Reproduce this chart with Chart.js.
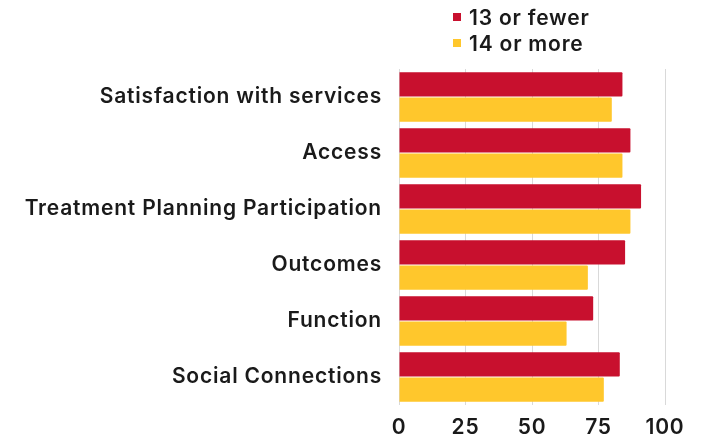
<!DOCTYPE html>
<html>
<head>
<meta charset="utf-8">
<script src="https://cdn.jsdelivr.net/npm/chart.js@4.4.0/dist/chart.umd.min.js"></script>
<style>
  html, body { margin: 0; padding: 0; background: #ffffff; }
  #wrap { position: relative; width: 704px; height: 441px; }
  #legend {
    position: absolute; left: 453px; top: 4px;
    font-family: Inter, "Open Sans", sans-serif; font-weight: 600;
    font-size: 21px; letter-spacing: 0.8px; color: #1a1a1a;
  }
  .item { display: flex; align-items: center; height: 26px; }
  .swatch { width: 8px; height: 8px; margin-right: 8px; }
</style>
</head>
<body>
<div id="wrap">
  <canvas id="chart" width="704" height="441"></canvas>
  <div id="legend"></div>
</div>
<script>
const categories = ['Satisfaction with services', 'Access', 'Treatment Planning Participation', 'Outcomes', 'Function', 'Social Connections'];
const seriesLabels = ['13 or fewer', '14 or more'];
const fewerValues = [84, 87, 91, 85, 73, 83];
const moreValues = [80, 84, 87, 71, 63, 77];
const xTicks = [0, 25, 50, 75, 100];

const colors = ['#C8102E', '#FFC72C'];
const font = { family: 'Inter, "Open Sans", sans-serif', size: 21, weight: '600' };

// Simple stacked legend above the plot
const legendEl = document.getElementById('legend');
seriesLabels.forEach((label, i) => {
    const item = document.createElement('div');
    item.className = 'item';
    const sw = document.createElement('span');
    sw.className = 'swatch';
    sw.style.background = colors[i];
    const txt = document.createElement('span');
    txt.textContent = label;
    item.appendChild(sw);
    item.appendChild(txt);
    legendEl.appendChild(item);
});

// Slightly wider lettering for the axis labels
const spacingPlugin = {
    id: 'spacing',
    beforeUpdate(chart) { chart.ctx.letterSpacing = '0.8px'; },
    beforeDraw(chart) { chart.ctx.letterSpacing = '0.8px'; }
};

const ctx = document.getElementById('chart').getContext('2d');
new Chart(ctx, {
    type: 'bar',
    data: {
        labels: categories,
        datasets: [{
            label: seriesLabels[0],
            data: fewerValues,
            backgroundColor: colors[0],
            borderRadius: 1,
            categoryPercentage: 0.9,
            barPercentage: 0.96
        }, {
            label: seriesLabels[1],
            data: moreValues,
            backgroundColor: colors[1],
            borderRadius: 1,
            categoryPercentage: 0.9,
            barPercentage: 0.96
        }]
    },
    options: {
        indexAxis: 'y',
        responsive: false,
        animation: false,
        layout: {
            padding: { top: 69, right: 39, bottom: 0, left: 0 }
        },
        plugins: {
            legend: { display: false },
            tooltip: { enabled: false }
        },
        scales: {
            x: {
                min: 0,
                max: 100,
                afterBuildTicks: function(scale) {
                    scale.ticks = xTicks.map(v => ({ value: v }));
                },
                afterFit: function(scale) {
                    scale.height = 36;
                },
                border: { display: false },
                grid: {
                    color: '#d9d9d9',
                    drawTicks: false
                },
                ticks: {
                    color: '#1a1a1a',
                    font: font,
                    padding: 10
                }
            },
            y: {
                afterFit: function(scale) {
                    scale.width = 399;
                },
                border: { display: false },
                grid: { display: false, drawTicks: false },
                ticks: {
                    color: '#1a1a1a',
                    font: font,
                    padding: 17
                }
            }
        }
    },
    plugins: [spacingPlugin]
});
</script>
</body>
</html>
